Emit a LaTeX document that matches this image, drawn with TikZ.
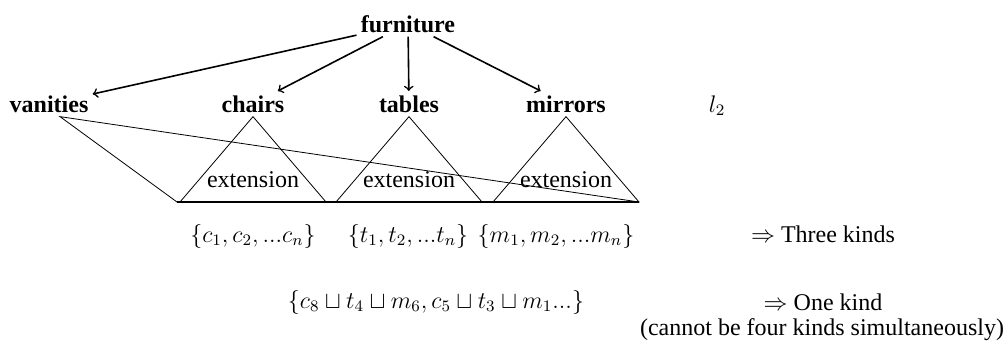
\documentclass[12pt,tikz,border=0pt]{standalone}
\usepackage{amssymb}
\usepackage{fontspec}
\setmainfont{Liberation Serif}
\usetikzlibrary{arrows}

\begin{document}
\begin{tikzpicture}[x=0.5pt,y=-0.5pt,
    kind/.style={font=\bfseries, inner sep=2pt, anchor=base},
    lab/.style={inner sep=2pt, anchor=base}]
     \useasboundingbox (0,0) rectangle (1007,343);
     % top level and the four kinds
     \node[kind] (furniture) at (408,32) {furniture};
     \node[kind] (vanities) at (49,112) {vanities};
     \node[kind] (chairs) at (253,112) {chairs};
     \node[kind] (tables) at (409,112) {tables};
     \node[kind] (mirrors) at (566,112) {mirrors};
     \node[lab] (level) at (717,112) {$l_2$};
      \draw[->, thick] (furniture) -- (vanities);
      \draw[->, thick] (furniture) -- (chairs);
      \draw[->, thick] (furniture) -- (tables);
      \draw[->, thick] (furniture) -- (mirrors);
     % extensions
     \coordinate (BL) at (177,202);
     \coordinate (BR) at (639,202);
      \draw[semithick] (BL) -- (BR);
      \foreach \n/\x in {chairs/253, tables/409, mirrors/566}{
        \draw[thin] (\n.south) -- ({\x-73},202) -- ({\x+73},202) -- cycle;
        \node[lab] (ext-\n) at (\x,187) {extension};
      }
     \coordinate (VT) at ([xshift=5.5pt]vanities.south);
      \draw[thin] (BL) -- (VT) -- (BR);
     % sets below
     \node[lab] (cset) at (253,242) {$\{c_1,c_2,...c_n\}$};
     \node[lab] (tset) at (408,242) {$\{t_1,t_2,...t_n\}$};
     \node[lab] (mset) at (556,242) {$\{m_1,m_2,...m_n\}$};
     \node[lab] (three) at (823,242) {$\Rightarrow$ Three kinds};
     \node[lab] (mix) at (436,308) {$\{c_8\sqcup t_4\sqcup m_6,c_5\sqcup t_3\sqcup m_1...\}$};
     \node[lab] (one) at (823,310) {$\Rightarrow$ One kind};
     \node[lab] (cannot) at (822,335) {(cannot be four kinds simultaneously)};
      %\draw (one) -- (cannot);
\end{tikzpicture}
\end{document}
